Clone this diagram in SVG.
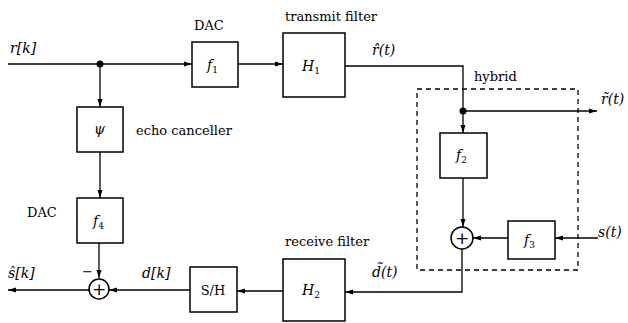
<svg xmlns="http://www.w3.org/2000/svg" width="628" height="323" viewBox="0 0 628 323">
<style>
text{font-family:"DejaVu Serif","Liberation Serif",serif;fill:#000}
.b{fill:#fff;stroke:#000;stroke-width:1.5}
.l{fill:none;stroke:#000;stroke-width:1.3}
.t{font-size:13px}
.p{font-size:17px}
.m{font-size:14px;font-style:italic}
.s{font-size:9px;font-style:normal}
</style>
<defs>
<marker id="a" markerWidth="8" markerHeight="6" refX="8" refY="3" orient="auto" markerUnits="userSpaceOnUse"><path d="M0,0.5 L8,3 L0,5.5 z" fill="#000"/></marker>
</defs>
<rect x="0" y="0" width="628" height="323" fill="#fff"/>
<g id="hybrid">
<rect x="417" y="89" width="161" height="181" fill="none" stroke="#000" stroke-width="1.3" stroke-dasharray="5,4"/>
<text class="t" x="474" y="81">hybrid</text>
</g>
<g id="connectors">
<path class="l" d="M8,64 H192" marker-end="url(#a)"/>
<path class="l" d="M238,64 H283" marker-end="url(#a)"/>
<path class="l" d="M100,64 V107" marker-end="url(#a)"/>
<path class="l" d="M100,152 V198" marker-end="url(#a)"/>
<path class="l" d="M99,243 V278" marker-end="url(#a)"/>
<path class="l" d="M345,66 H463 V133" marker-end="url(#a)"/>
<path class="l" d="M463,111 H597" marker-end="url(#a)"/>
<path class="l" d="M463,178 V227" marker-end="url(#a)"/>
<path class="l" d="M598,238 H555" marker-end="url(#a)"/>
<path class="l" d="M508,238 H473" marker-end="url(#a)"/>
<path class="l" d="M462,249 V292 H345" marker-end="url(#a)"/>
<path class="l" d="M283,291 H237" marker-end="url(#a)"/>
<path class="l" d="M190,290 H109" marker-end="url(#a)"/>
<path class="l" d="M89,290 H8" marker-end="url(#a)"/>
<circle cx="100" cy="64" r="3.5" fill="#000"/>
<circle cx="463" cy="111" r="3.5" fill="#000"/>
<text class="m" x="10" y="53">r[k]</text>
<text class="m" x="372" y="55">r̂(t)</text>
<text class="m" x="601" y="104">r̃(t)</text>
<text class="m" x="598" y="237">s(t)</text>
<text class="m" x="372" y="277">d̃(t)</text>
<text class="m" x="142" y="278">d[k]</text>
<text class="m" x="8" y="278">ŝ[k]</text>
<text class="t" x="82" y="276">−</text>
</g>
<g id="f1"><rect class="b" x="192" y="42" width="46" height="45"/><text class="m" x="207" y="70">f<tspan class="s" dy="3">1</tspan></text><text class="t" x="194" y="30">DAC</text></g>
<g id="H1"><rect class="b" x="283" y="33" width="62" height="64"/><text class="m" x="302" y="71">H<tspan class="s" dy="3">1</tspan></text><text class="t" x="285" y="21">transmit filter</text></g>
<g id="psi"><rect class="b" x="77" y="107" width="46" height="45"/><text class="m" x="94" y="134">ψ</text><text class="t" x="136" y="135">echo canceller</text></g>
<g id="f4"><rect class="b" x="77" y="198" width="46" height="45"/><text class="m" x="93" y="226">f<tspan class="s" dy="3">4</tspan></text><text class="t" x="27" y="217">DAC</text></g>
<g id="f2"><rect class="b" x="440" y="133" width="47" height="45"/><text class="m" x="456" y="160">f<tspan class="s" dy="3">2</tspan></text></g>
<g id="f3"><rect class="b" x="508" y="221" width="47" height="38"/><text class="m" x="524" y="245">f<tspan class="s" dy="3">3</tspan></text></g>
<g id="sum1"><circle class="b" cx="462" cy="238" r="11"/><text class="p" x="462" y="244" text-anchor="middle">+</text></g>
<g id="H2"><rect class="b" x="283" y="259" width="62" height="62"/><text class="m" x="302" y="295">H<tspan class="s" dy="3">2</tspan></text><text class="t" x="285" y="246">receive filter</text></g>
<g id="SH"><rect class="b" x="190" y="267" width="47" height="45"/><text class="t" x="213" y="295" text-anchor="middle">S/H</text></g>
<g id="sum2"><circle class="b" cx="99" cy="289" r="10"/><text class="p" x="99" y="295" text-anchor="middle">+</text></g>
</svg>
